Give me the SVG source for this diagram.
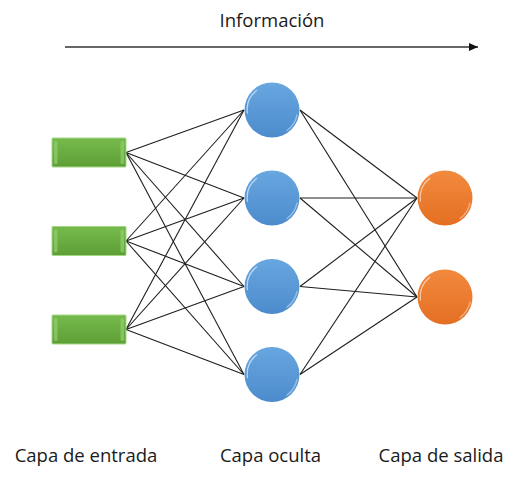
<svg xmlns="http://www.w3.org/2000/svg" width="518" height="480" viewBox="0 0 518 480">
<defs>
<style>
.lbl{font-family:"Open Sans","Liberation Sans",sans-serif;font-size:18.5px;fill:#1a1a1a;text-anchor:middle}
.con line{stroke:#1e1e1e;stroke-width:1.1}
.hl{fill:none;stroke:#ffffff;stroke-linecap:round}
</style>
<linearGradient id="gBlue" x1="0" y1="0" x2="0" y2="1">
<stop offset="0" stop-color="#68A6E0"/>
<stop offset="1" stop-color="#4C8CCC"/>
</linearGradient>
<linearGradient id="gOrange" x1="0" y1="0" x2="0" y2="1">
<stop offset="0" stop-color="#F28A3E"/>
<stop offset="1" stop-color="#E46F22"/>
</linearGradient>
<linearGradient id="gGreen" x1="0" y1="0" x2="0" y2="1">
<stop offset="0" stop-color="#76BA4C"/>
<stop offset="1" stop-color="#5E9E36"/>
</linearGradient>
<marker id="arr" markerWidth="10" markerHeight="10" refX="9" refY="5" orient="auto" markerUnits="userSpaceOnUse">
<path d="M0,1 L9,5 L0,9 Z" fill="#111"/>
</marker>
<g id="shineB">
<path class="hl" d="M-24.6,3 A25,25 0 0 1 -15.5,-19.6" stroke-width="1.3" stroke-opacity="0.6"/>
<path class="hl" d="M25,5 A25.5,25.5 0 0 1 15,20.6" stroke-width="1.3" stroke-opacity="0.4"/>
</g>
<g id="bar">
<rect x="0" y="0" width="74" height="29" rx="1" fill="url(#gGreen)" stroke="#A3D685" stroke-width="1"/>
<rect x="2" y="3" width="3.5" height="23" rx="1.5" fill="#92D06C" opacity="0.7"/>
<rect x="68.5" y="3" width="3.5" height="23" rx="1.5" fill="#92D06C" opacity="0.7"/>
</g>
</defs>
<rect width="518" height="480" fill="#ffffff"/>

<g id="flow">
<text class="lbl" x="272" y="27">Información</text>
<line x1="65" y1="47" x2="478" y2="47" stroke="#333" stroke-width="1.4" marker-end="url(#arr)"/>
</g>

<g id="connectors" class="con">
<line x1="126" y1="152.5" x2="244" y2="110"/>
<line x1="126" y1="152.5" x2="244" y2="198"/>
<line x1="126" y1="152.5" x2="244" y2="286.5"/>
<line x1="126" y1="152.5" x2="244" y2="374.5"/>
<line x1="126" y1="241" x2="244" y2="110"/>
<line x1="126" y1="241" x2="244" y2="198"/>
<line x1="126" y1="241" x2="244" y2="286.5"/>
<line x1="126" y1="241" x2="244" y2="374.5"/>
<line x1="126" y1="329.5" x2="244" y2="110"/>
<line x1="126" y1="329.5" x2="244" y2="198"/>
<line x1="126" y1="329.5" x2="244" y2="286.5"/>
<line x1="126" y1="329.5" x2="244" y2="374.5"/>
<line x1="300" y1="110" x2="417" y2="198"/>
<line x1="300" y1="110" x2="417" y2="297"/>
<line x1="300" y1="198" x2="417" y2="198"/>
<line x1="300" y1="198" x2="417" y2="297"/>
<line x1="300" y1="286.5" x2="417" y2="198"/>
<line x1="300" y1="286.5" x2="417" y2="297"/>
<line x1="300" y1="374.5" x2="417" y2="198"/>
<line x1="300" y1="374.5" x2="417" y2="297"/>
</g>

<g id="in1" transform="translate(52,138)"><use href="#bar"/></g>
<g id="in2" transform="translate(52,226.5)"><use href="#bar"/></g>
<g id="in3" transform="translate(52,315)"><use href="#bar"/></g>

<g id="h1" transform="translate(272,110)"><circle r="27.5" fill="url(#gBlue)"/><use href="#shineB"/></g>
<g id="h2" transform="translate(272,198)"><circle r="27.5" fill="url(#gBlue)"/><use href="#shineB"/></g>
<g id="h3" transform="translate(272,286.5)"><circle r="27.5" fill="url(#gBlue)"/><use href="#shineB"/></g>
<g id="h4" transform="translate(272,374.5)"><circle r="27.5" fill="url(#gBlue)"/><use href="#shineB"/></g>

<g id="o1" transform="translate(445,198)"><circle r="27.5" fill="url(#gOrange)"/><use href="#shineB"/></g>
<g id="o2" transform="translate(445,297)"><circle r="27.5" fill="url(#gOrange)"/><use href="#shineB"/></g>

<g id="labels">
<text class="lbl" x="86" y="462">Capa de entrada</text>
<text class="lbl" x="270.5" y="462">Capa oculta</text>
<text class="lbl" x="441" y="462">Capa de salida</text>
</g>
</svg>
